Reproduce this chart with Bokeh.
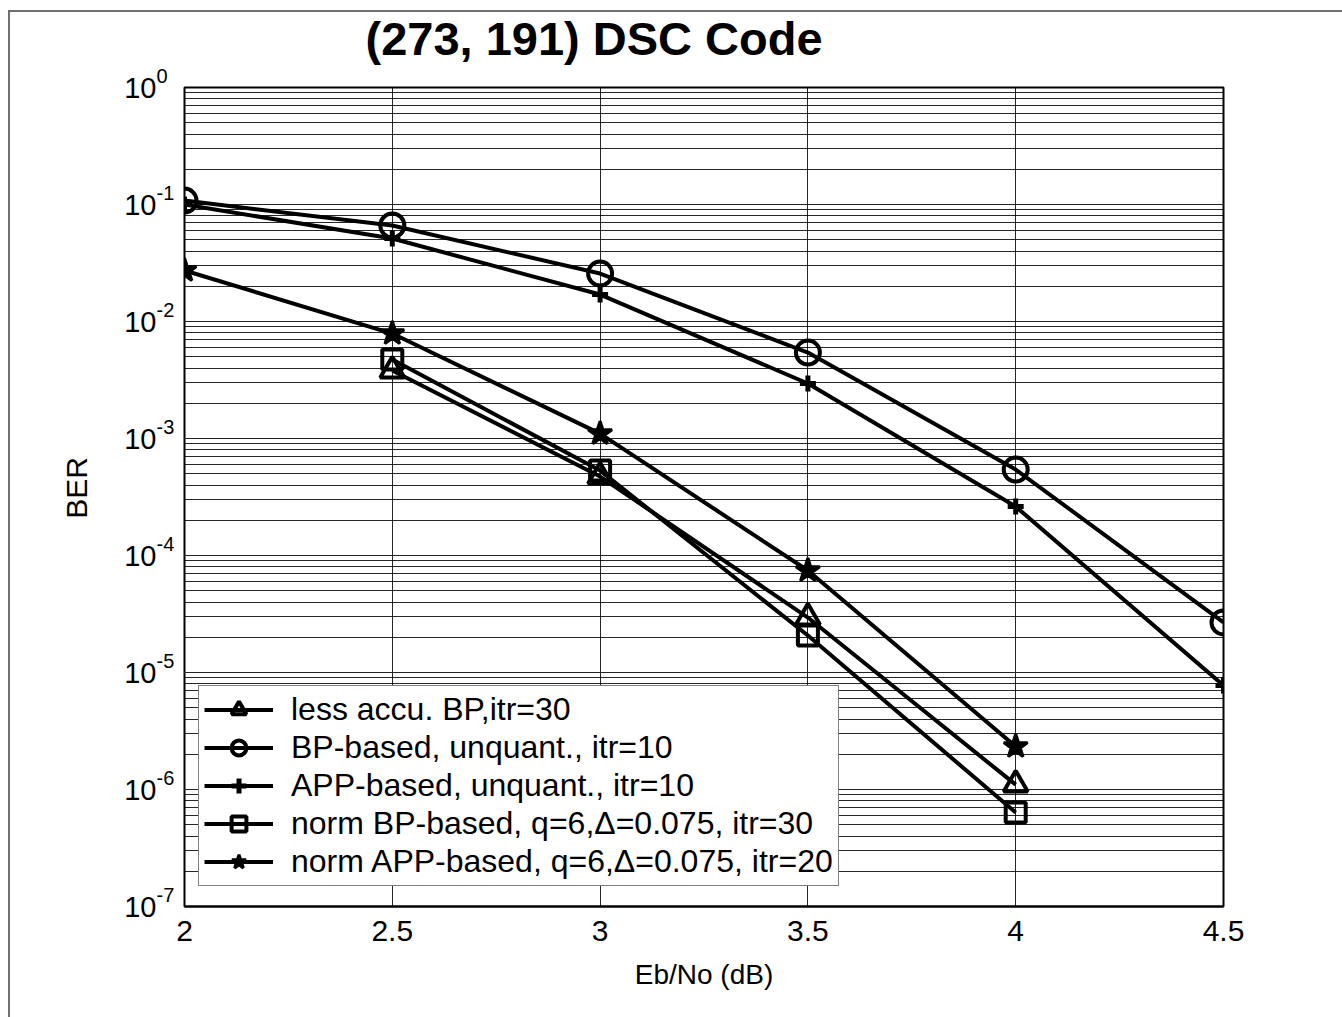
import math
from bokeh.plotting import figure
from bokeh.layouts import row, column
from bokeh.models import (Range1d, FixedTicker, Legend, LegendItem, NumeralTickFormatter,
                          Grid, ColumnDataSource)
from bokeh.core.properties import value
from bokeh.embed import file_html
from bokeh.resources import INLINE

# ---------------- data ----------------
ebno_all = [2.0, 2.5, 3.0, 3.5, 4.0, 4.5]
ebno_norm_app = [2.0, 2.5, 3.0, 3.5, 4.0]
ebno_short = [2.5, 3.0, 3.5, 4.0]

ber_less_accu_bp = [3.81e-3, 4.73e-4, 2.95e-5, 1.10e-6]
ber_bp_unquant = [0.108, 0.0662, 0.0257, 5.43e-3, 5.43e-4, 2.68e-5]
ber_app_unquant = [0.100, 0.0512, 0.0170, 2.95e-3, 2.62e-4, 7.74e-6]
ber_norm_bp = [4.73e-3, 5.32e-4, 2.07e-5, 6.36e-7]
ber_norm_app = [0.0273, 7.89e-3, 1.10e-3, 7.44e-5, 2.33e-6]

series_labels = [
    "less accu. BP,itr=30",
    "BP-based, unquant., itr=10",
    "APP-based, unquant., itr=10",
    "norm BP-based, q=6,\u0394=0.075, itr=30",
    "norm APP-based, q=6,\u0394=0.075, itr=20",
]

x_ticks = [2.0, 2.5, 3.0, 3.5, 4.0, 4.5]
y_exponents = [0, -1, -2, -3, -4, -5, -6, -7]
y_base = "10"

title_text = "(273, 191) DSC Code"
x_label = "Eb/No (dB)"
y_label = "BER"

FONT = "Liberation Sans"

Y_MIN, Y_MAX = 1e-7, 1.0
DECADE_PX = 117.0
PAD_PX = 47
TOP_H = 73
LEFT_W = 164
MAIN_W = 1332 - LEFT_W


def bare(fig):
    fig.outline_line_color = None
    fig.background_fill_color = "white"
    fig.border_fill_color = "white"
    fig.frame_align = False
    for g in fig.grid:
        g.visible = False


# ---------------- left strip: y tick labels (10 with superscript) + BER ----------------
pad_dec = PAD_PX / DECADE_PX
lf = figure(width=LEFT_W, height=1005,
            x_range=Range1d(0, LEFT_W),
            y_range=Range1d(Y_MIN * 10 ** (-pad_dec), Y_MAX * 10 ** pad_dec),
            y_axis_type="log", x_axis_location=None, y_axis_location=None,
            output_backend="svg", toolbar_location=None,
            min_border_left=0, min_border_right=0,
            min_border_top=TOP_H + 2 - PAD_PX, min_border_bottom=111 - PAD_PX)
bare(lf)

tick_src = ColumnDataSource(dict(
    y=[10.0 ** e for e in y_exponents],
    base=[y_base] * len(y_exponents),
    exp=[str(e) for e in y_exponents],
    xb=[146] * len(y_exponents),
))
lf.text(x="xb", y="y", text="base", source=tick_src,
        text_align="right", text_baseline="middle",
        text_font=value(FONT), text_font_size="29px", text_color="black")
lf.text(x="xb", y="y", text="exp", source=tick_src, y_offset=-12,
        text_align="left", text_baseline="alphabetic",
        text_font=value(FONT), text_font_size="20px", text_color="black")
lf.text(x=[66], y=[math.sqrt(Y_MIN * Y_MAX)], text=[y_label], angle=math.pi / 2,
        y_offset=-9, text_align="center", text_baseline="middle",
        text_font=value(FONT), text_font_size="30px", text_color="black")

# ---------------- top strip: title ----------------
top = figure(width=MAIN_W, height=TOP_H, x_range=Range1d(0, MAIN_W), y_range=Range1d(0, TOP_H),
             x_axis_location=None, y_axis_location=None,
             output_backend="svg", toolbar_location=None,
             min_border_left=0, min_border_right=0, min_border_top=0, min_border_bottom=0)
bare(top)
top.text(x=[365 - 10 - LEFT_W], y=[47], text=[title_text],
         text_align="left", text_baseline="alphabetic",
         text_font=value(FONT), text_font_size="47px", text_font_style="bold",
         text_color="black")

# ---------------- main plot ----------------
p = figure(width=MAIN_W, height=1005 - TOP_H,
           x_range=Range1d(2.0, 4.5), y_range=Range1d(Y_MIN, Y_MAX),
           y_axis_type="log", y_axis_location=None,
           output_backend="svg", toolbar_location=None,
           min_border_left=184 - 10 - LEFT_W, min_border_right=119,
           min_border_top=2, min_border_bottom=111)
p.frame_align = False
p.background_fill_color = "white"
p.border_fill_color = "white"
p.outline_line_color = "black"
p.outline_line_width = 2

# x axis
p.xaxis.ticker = FixedTicker(ticks=x_ticks)
p.xaxis.formatter = NumeralTickFormatter(format="0.[0]")
p.xaxis.major_label_text_font = FONT
p.xaxis.major_label_text_font_size = "30px"
p.xaxis.major_label_text_color = "black"
p.xaxis.major_label_standoff = 14
p.xaxis.axis_label = x_label
p.xaxis.axis_label_text_font = FONT
p.xaxis.axis_label_text_font_size = "28px"
p.xaxis.axis_label_text_font_style = "normal"
p.xaxis.axis_label_text_color = "black"
p.xaxis.axis_label_standoff = 15
p.xaxis.major_tick_in = 0
p.xaxis.major_tick_out = 0
p.xaxis.minor_tick_in = 0
p.xaxis.minor_tick_out = 0
p.xaxis.axis_line_color = "black"
p.xaxis.axis_line_width = 2

# grid
p.xgrid.grid_line_color = "black"
p.xgrid.grid_line_alpha = 0.85
major_y = [10.0 ** e for e in y_exponents]
minor_y = [m * 10.0 ** e for e in range(-7, 0) for m in range(2, 10)]
ygrid = Grid(dimension=1, ticker=FixedTicker(ticks=major_y, minor_ticks=minor_y),
             grid_line_color="black", grid_line_alpha=0.85,
             minor_grid_line_color="black", minor_grid_line_alpha=0.85)
p.add_layout(ygrid)

# ---------------- series ----------------
LW = 4
items = []

l1 = p.line(ebno_short, ber_less_accu_bp, line_color="black", line_width=LW)
m1 = p.scatter(ebno_short, ber_less_accu_bp, marker="triangle", size=24,
               line_color="black", line_width=4, fill_alpha=0)
items.append(LegendItem(label=series_labels[0], renderers=[l1, m1]))

l2 = p.line(ebno_all, ber_bp_unquant, line_color="black", line_width=LW)
m2 = p.scatter(ebno_all, ber_bp_unquant, marker="circle", size=24,
               line_color="black", line_width=4, fill_alpha=0)
items.append(LegendItem(label=series_labels[1], renderers=[l2, m2]))

l3 = p.line(ebno_all, ber_app_unquant, line_color="black", line_width=LW)
m3 = p.scatter(ebno_all, ber_app_unquant, marker="cross", size=16,
               line_color="black", line_width=5)
items.append(LegendItem(label=series_labels[2], renderers=[l3, m3]))

l4 = p.line(ebno_short, ber_norm_bp, line_color="black", line_width=LW)
m4 = p.scatter(ebno_short, ber_norm_bp, marker="square", size=20,
               line_color="black", line_width=4, fill_alpha=0)
items.append(LegendItem(label=series_labels[3], renderers=[l4, m4]))

l5 = p.line(ebno_norm_app, ber_norm_app, line_color="black", line_width=LW)
m5 = p.scatter(ebno_norm_app, ber_norm_app, marker="star", size=25,
               line_color="black", line_width=3, fill_color="black")
items.append(LegendItem(label=series_labels[4], renderers=[l5, m5]))

legend = Legend(items=items, location=(14, 20))
legend.label_text_font = FONT
legend.label_text_font_size = "32px"
legend.label_text_color = "black"
legend.glyph_width = 69
legend.glyph_height = 37
legend.label_standoff = 18
legend.padding = 5
legend.spacing = 1
legend.margin = 0
legend.border_line_color = "black"
legend.border_line_width = 1.5
legend.background_fill_color = "white"
legend.background_fill_alpha = 1.0
p.add_layout(legend, "center")

layout = row(lf, column(top, p, spacing=0), spacing=0)
layout.styles = {"border-top": "2px solid #707070", "border-left": "2px solid #707070",
                 "margin-top": "10px", "margin-left": "8px"}

open("out.html", "w").write(file_html(layout, INLINE))
